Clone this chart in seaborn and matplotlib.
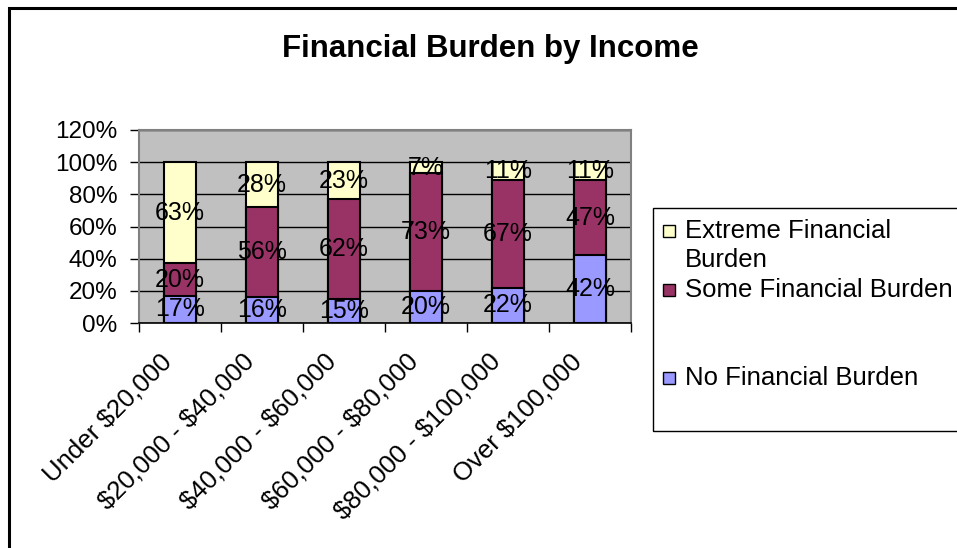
import matplotlib
matplotlib.use("Agg")
import matplotlib.pyplot as plt
import matplotlib.transforms as mtransforms
from matplotlib.patches import Rectangle
import numpy as np
import pandas as pd
import seaborn as sns

# ---- data ----
categories = ["Under $20,000", "$20,000 - $40,000", "$40,000 - $60,000",
              "$60,000 - $80,000", "$80,000 - $100,000", "Over $100,000"]
no_burden = [17, 16, 15, 20, 22, 42]
some_burden = [20, 56, 62, 73, 67, 47]
extreme_burden = [63, 28, 23, 7, 11, 11]
series_names = ["Extreme Financial\nBurden", "Some Financial Burden", "No Financial Burden"]
y_ticks = [0, 20, 40, 60, 80, 100, 120]

c_extreme = "#FFFFCC"
c_some = "#993366"
c_no = "#9999FF"
c_bg = "#C0C0C0"

plt.rcParams["font.family"] = ["Liberation Sans", "DejaVu Sans"]
plt.rcParams["text.parse_math"] = False

W, H = 957, 548
fig = plt.figure(figsize=(W / 100, H / 100), dpi=100)
fig.patch.set_facecolor("white")

# plot area in pixels
L, R, T, B = 139, 631, 130, 323
ax = fig.add_axes([L / W, 1 - B / H, (R - L) / W, (B - T) / H])
ax.set_facecolor(c_bg)

df = pd.DataFrame({"cat": categories,
                   "no": no_burden, "some": some_burden, "extreme": extreme_burden})
df["mid"] = df["no"] + df["some"]
df["top"] = df["mid"] + df["extreme"]

bar_kw = dict(edgecolor="black", linewidth=1.5, width=0.39, saturation=1,
              errorbar=None, ax=ax, order=categories)
sns.barplot(data=df, x="cat", y="top", color=c_extreme, **bar_kw)
sns.barplot(data=df, x="cat", y="mid", color=c_some, **bar_kw)
sns.barplot(data=df, x="cat", y="no", color=c_no, **bar_kw)

# data labels centered in segments
for i, row in df.iterrows():
    for lo, val in [(0, row["no"]), (row["no"], row["some"]), (row["mid"], row["extreme"])]:
        ax.text(i, lo + val / 2, f"{val}%", ha="center", va="center",
                fontsize=18, color="black", zorder=5)

ax.set_ylim(0, 120)
ax.set_xlim(-0.5, len(categories) - 0.5)
ax.set_yticks(y_ticks)
ax.set_yticklabels([f"{t}%" for t in y_ticks], fontsize=17.5)
ax.yaxis.grid(True, color="black", linewidth=1)
ax.set_axisbelow(True)
ax.tick_params(axis="y", length=6.5, width=1, color="black", pad=9, direction="out")

ax.set_xticks(range(len(categories)))
ax.set_xticklabels(categories, fontsize=18.5, rotation=45, ha="right",
                   va="top", rotation_mode="anchor")
ax.tick_params(axis="x", which="major", length=0, pad=19)
ax.set_xticks(np.arange(-0.5, len(categories), 1), minor=True)
ax.tick_params(axis="x", which="minor", length=6.5, width=1, color="black", direction="out")
offset = mtransforms.ScaledTranslation(-20 / 100, 0, fig.dpi_scale_trans)
for lab in ax.get_xticklabels():
    lab.set_transform(lab.get_transform() + offset)

ax.set_xlabel("")
ax.set_ylabel("")
for s in ["left", "top", "right"]:
    ax.spines[s].set_color("#808080")
    ax.spines[s].set_linewidth(1.5)
ax.spines["bottom"].set_color("black")
ax.spines["bottom"].set_linewidth(1.2)

# title
fig.text(490 / W, 1 - 57 / H, "Financial Burden by Income", ha="center",
         va="baseline", fontsize=22.5, fontweight="bold")

# chart outer border (left & top visible)
fig.add_artist(Rectangle((9 / W, -0.2), 1.2, 1.2 - 8 / H,
                         transform=fig.transFigure, fill=False,
                         edgecolor="black", linewidth=2.2))

# legend box
lx0, ly0, ly1 = 653, 208, 431
fig.add_artist(Rectangle((lx0 / W, 1 - ly1 / H), 1.0, (ly1 - ly0) / H,
                         transform=fig.transFigure, fill=False,
                         edgecolor="black", linewidth=1.0))
legend_items = [(series_names[0], c_extreme, 231),
                (series_names[1], c_some, 290),
                (series_names[2], c_no, 378)]
for name, col, yc in legend_items:
    fig.add_artist(Rectangle((663 / W, 1 - (yc + 6) / H), 12 / W, 12 / H,
                             transform=fig.transFigure, facecolor=col,
                             edgecolor="black", linewidth=1.0))
    for k, ln in enumerate(name.split("\n")):
        fig.text(685 / W, 1 - (yc + k * 29) / H, ln, ha="left", va="center",
                 fontsize=18.5)

fig.savefig("out.png", dpi=100, facecolor="white")
